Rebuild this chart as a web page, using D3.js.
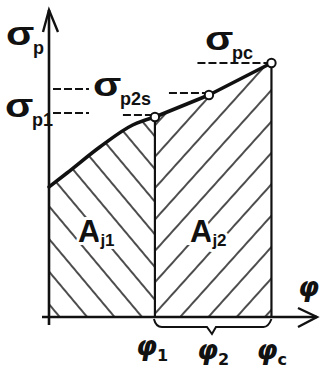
<!DOCTYPE html>
<html><head><meta charset="utf-8">
<script src="https://cdn.jsdelivr.net/npm/d3@7"></script>
<style>html,body{margin:0;padding:0;background:#fff;}svg{display:block;}</style>
</head><body>
<script>
// ---- data ----
const curvePhi   = [0, 0.17, 0.48, 0.79, 1.0, 1.51, 2.1];
const curveSigma = [1.3, 1.44, 1.70, 1.92, 2.0, 2.22, 2.54];
const markerIdx  = [4, 5, 6];
const phiTickValues = [1.0, 1.51, 2.1];
const phiTickLabels = ["1", "2", "c"];
const sigmaLabelLevels = [2.04, 2.28];      // left dashed levels (σp1, σp2s)
const sigmaLabelSubs   = ["p", "p2s", "p1", "pc"];
const areaLabels = ["j1", "j2"];

const W = 324, H = 369;
const x = d3.scaleLinear().domain([0, 2.53]).range([49, 317]);
const y = d3.scaleLinear().domain([0, 3.07]).range([317, 10]);

const svg = d3.select("body").append("svg").attr("width", W).attr("height", H);
const defs = svg.append("defs");
function hatch(id, angle) {
  const p = defs.append("pattern").attr("id", id).attr("patternUnits", "userSpaceOnUse")
    .attr("width", 21).attr("height", 21).attr("patternTransform", `rotate(${angle})`);
  p.append("line").attr("x1", 10).attr("x2", 10).attr("y1", -2).attr("y2", 23)
    .attr("stroke", "#111").attr("stroke-width", 1.5);
}
hatch("hL", -40);
hatch("hR", 42);

const pts = curvePhi.map((p, i) => [p, curveSigma[i]]);
const line = d3.line().x(d => x(d[0])).y(d => y(d[1])).curve(d3.curveMonotoneX);
const lineLin = d3.line().x(d => x(d[0])).y(d => y(d[1]));
const area = d3.area().x(d => x(d[0])).y0(y(0)).y1(d => y(d[1])).curve(d3.curveMonotoneX);
const areaLin = d3.area().x(d => x(d[0])).y0(y(0)).y1(d => y(d[1]));

svg.append("path").attr("d", area(pts.slice(0, 5))).attr("fill", "url(#hL)");
svg.append("path").attr("d", areaLin(pts.slice(4))).attr("fill", "url(#hR)");

// vertical lines
[phiTickValues[0], phiTickValues[2]].forEach(v => {
  const s = curveSigma[curvePhi.indexOf(v)];
  svg.append("line").attr("x1", x(v)).attr("x2", x(v)).attr("y1", y(0)).attr("y2", y(s))
    .attr("stroke", "#111").attr("stroke-width", 2.2);
});

// dashed lines
const dash = (x1, x2, yy) => svg.append("line").attr("x1", x1).attr("x2", x2).attr("y1", yy).attr("y2", yy)
  .attr("stroke", "#111").attr("stroke-width", 2).attr("stroke-dasharray", "8,3");
sigmaLabelLevels.forEach(l => dash(x(0) + 4, x(0) + 40, y(l)));
dash(x(curvePhi[4]) - 32, x(curvePhi[4]) - 4, y(curveSigma[4]) - 2);
dash(x(curvePhi[5]) - 40, x(curvePhi[5]) - 4, y(curveSigma[5]) - 2);
dash(x(curvePhi[6]) - 74, x(curvePhi[6]) - 4, y(curveSigma[6]));

// curve
svg.append("path").attr("d", line(pts.slice(0, 5))).attr("fill", "none").attr("stroke", "#111")
  .attr("stroke-width", 3.6).attr("stroke-linecap", "round");
svg.append("path").attr("d", lineLin(pts.slice(4))).attr("fill", "none").attr("stroke", "#111")
  .attr("stroke-width", 3.6).attr("stroke-linejoin", "round").attr("stroke-linecap", "round");

// axes
svg.append("line").attr("x1", x(0)).attr("x2", x(0)).attr("y1", y(0) + 8).attr("y2", y(3.07))
  .attr("stroke", "#111").attr("stroke-width", 2.6);
svg.append("line").attr("x1", x(0) - 7).attr("x2", x(2.53)).attr("y1", y(0)).attr("y2", y(0))
  .attr("stroke", "#111").attr("stroke-width", 2.6);
svg.append("path").attr("d", `M${x(0)-6},${y(3.07)+22} L${x(0)},${y(3.07)} L${x(0)+9},${y(3.07)+22}`)
  .attr("fill", "none").attr("stroke", "#111").attr("stroke-width", 2.4);
svg.append("path").attr("d", `M${x(2.53)-19},${y(0)-9} L${x(2.53)},${y(0)} L${x(2.53)-19},${y(0)+10}`)
  .attr("fill", "none").attr("stroke", "#111").attr("stroke-width", 2.4);

// markers
markerIdx.forEach(i => svg.append("circle").attr("cx", x(curvePhi[i])).attr("cy", y(curveSigma[i]))
  .attr("r", 4.2).attr("fill", "#fff").attr("stroke", "#111").attr("stroke-width", 2));

// brace
const bx1 = x(phiTickValues[0]), bx2 = x(phiTickValues[2]), bm = x(phiTickValues[1]) + 3, by = y(0);
svg.append("path").attr("d",
  `M${bx1-1},${by+2} Q${bx1+1},${by+10} ${bx1+7},${by+10} L${bm-5},${by+10} L${bm},${by+17} L${bm+4},${by+10} L${bx2-8},${by+10} Q${bx2-3},${by+10} ${bx2},${by+2}`)
  .attr("fill", "none").attr("stroke", "#111").attr("stroke-width", 2);

// text helpers
const font = "'Liberation Sans', Arial, sans-serif";
function sig(px, py, sub) {
  svg.append("text").attr("transform", `translate(${px},${py}) scale(1.22,1)`)
    .attr("font-family", font).attr("font-weight", "bold").attr("fill", "#111")
    .attr("font-size", 34).text("σ");
  svg.append("text").attr("x", px + 27).attr("y", py + 9).attr("font-family", font)
    .attr("font-weight", "bold").attr("fill", "#111").attr("font-size", 18).text(sub);
}
sig(6, 45, sigmaLabelSubs[0]);
sig(93, 96, sigmaLabelSubs[1]);
sig(5, 117, sigmaLabelSubs[2]);
sig(205, 50, sigmaLabelSubs[3]);

function areaLab(px, py, sub) {
  const t = svg.append("text").attr("x", px).attr("y", py).attr("font-family", font)
    .attr("font-weight", "bold").attr("fill", "#111").attr("font-size", 31)
    .attr("stroke", "#fff").attr("stroke-width", 6).attr("paint-order", "stroke");
  t.append("tspan").text("A");
  t.append("tspan").attr("font-size", 17).attr("dy", 4).text(sub);
}
areaLab(78, 242, areaLabels[0]);
areaLab(190, 242, areaLabels[1]);

const phiFont = "'DejaVu Sans', sans-serif";
function phiLab(px, py, sub) {
  const t = svg.append("text").attr("x", px).attr("y", py).attr("font-family", phiFont)
    .attr("font-weight", "bold").attr("fill", "#111").attr("font-size", 27);
  t.append("tspan").attr("font-style", "italic").text("φ");
  if (sub) t.append("tspan").attr("font-size", 16).attr("dy", 6).text(sub);
}
phiLab(298, 296, null);
phiTickValues.forEach((v, i) => phiLab(x(v) - (i === 0 ? 19 : i === 1 ? 12 : 15), i === 0 ? 355 : 359, phiTickLabels[i]));
</script>
</body></html>
